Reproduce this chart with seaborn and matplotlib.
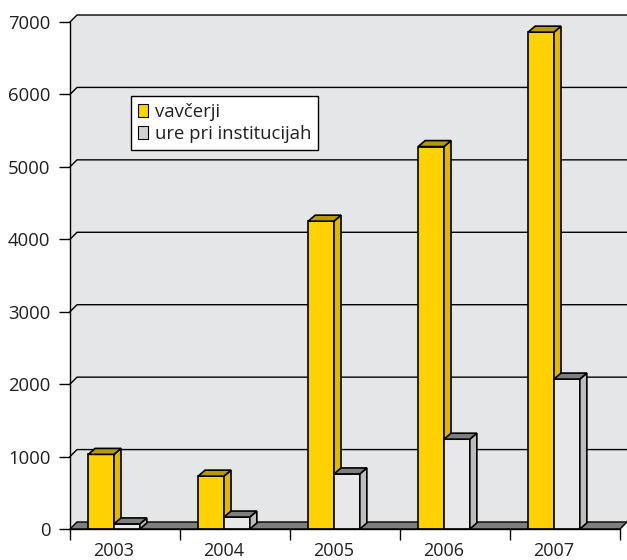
"""3D-style clustered column chart: vavčerji vs. ure pri institucijah, 2003-2007."""

import matplotlib
matplotlib.use("Agg")
import matplotlib.pyplot as plt
from matplotlib.lines import Line2D
from matplotlib.patches import Patch, Polygon, Rectangle
import pandas as pd
import seaborn as sns

YEARS = ["2003", "2004", "2005", "2006", "2007"]
VAVCERJI = [1030, 730, 4250, 5280, 6860]
URE = [70, 165, 760, 1240, 2070]
SERIES = ["vavčerji", "ure pri institucijah"]
Y_TICKS = [0, 1000, 2000, 3000, 4000, 5000, 6000, 7000]

FRONT = ["#FFD200", "#E8E8EA"]
SIDE = ["#E0B800", "#BDBDBF"]
TOP = ["#B69800", "#7E7E80"]
SWATCH = ["#FFD200", "#D2D2D4"]
WALL = "#E5E6E8"
FLOOR = "#7F7F7F"
TEXT = "#231F20"

W_DX, W_DY = 7, 7   # back wall depth (px)
B_DX, B_DY = 7, 6   # bar depth (px)

plt.rcParams["font.family"] = ["Open Sans", "DejaVu Sans"]

df = pd.DataFrame({
    "year": YEARS * 2,
    "value": VAVCERJI + URE,
    "series": [SERIES[0]] * len(YEARS) + [SERIES[1]] * len(YEARS),
})

fig = plt.figure(figsize=(6.27, 5.6), dpi=100)
ax = fig.add_axes([70 / 627, 31 / 560, 550 / 627, 507 / 560])
ax.set_facecolor("none")

sns.barplot(
    data=df, x="year", y="value", hue="series", order=YEARS,
    hue_order=SERIES, palette=dict(zip(SERIES, FRONT)), saturation=1,
    width=0.47, edgecolor="black", linewidth=1.2, legend=False, ax=ax,
)

xmin, xmax = -0.4, 4.6
ymin, ymax = 0, 7000
ax.set_xlim(xmin, xmax)
ax.set_ylim(ymin, ymax)

# pixel -> data conversion for the fake depth
ax_w = ax.get_position().width * fig.get_figwidth() * fig.dpi
ax_h = ax.get_position().height * fig.get_figheight() * fig.dpi
px_x = (xmax - xmin) / ax_w
px_y = (ymax - ymin) / ax_h
wdx, wdy = W_DX * px_x, W_DY * px_y
bdx, bdy = B_DX * px_x, B_DY * px_y

# back wall, side wall, floor
ax.add_patch(Rectangle((xmin + wdx, wdy), xmax - xmin, ymax, facecolor=WALL,
                       edgecolor="none", clip_on=False, zorder=0))
ax.add_patch(Polygon([(xmin, 0), (xmin + wdx, wdy), (xmin + wdx, ymax + wdy),
                      (xmin, ymax)], closed=True, facecolor=WALL,
                     edgecolor="none", clip_on=False, zorder=0))
ax.add_patch(Polygon([(xmin, 0), (xmax, 0), (xmax + wdx, wdy), (xmin + wdx, wdy)],
                     closed=True, facecolor=FLOOR, edgecolor="black",
                     linewidth=1.0, clip_on=False, zorder=1))
for v in Y_TICKS[1:]:
    ax.add_line(Line2D([xmin, xmin + wdx, xmax + wdx], [v, v + wdy, v + wdy],
                       color="black", linewidth=1.0, clip_on=False, zorder=1))

# give the bars depth
for i, cont in enumerate(ax.containers):
    for bar in cont:
        x0, w, h = bar.get_x(), bar.get_width(), bar.get_height()
        x1 = x0 + w
        bar.set_zorder(3 + i)
        side = Polygon([(x1, 0), (x1, h), (x1 + bdx, h + bdy), (x1 + bdx, bdy)],
                       closed=True, facecolor=SIDE[i], edgecolor="black",
                       linewidth=1.2, zorder=3.5 + i, clip_on=False)
        top = Polygon([(x0, h), (x1, h), (x1 + bdx, h + bdy), (x0 + bdx, h + bdy)],
                      closed=True, facecolor=TOP[i], edgecolor="black",
                      linewidth=1.2, zorder=3.5 + i, clip_on=False)
        ax.add_patch(side)
        ax.add_patch(top)

# axes styling
for s in ["top", "right"]:
    ax.spines[s].set_visible(False)
for s in ["left", "bottom"]:
    ax.spines[s].set_color("black")
    ax.spines[s].set_linewidth(1.0)
    ax.spines[s].set_zorder(6)

ax.set_yticks(Y_TICKS)
ax.set_yticklabels([str(v) for v in Y_TICKS])
ax.set_xticks(range(len(YEARS)))
ax.set_xticklabels(YEARS)
ax.set_xticks([xmin + k for k in range(len(YEARS) + 1)], minor=True)
ax.tick_params(axis="x", which="major", length=0, pad=9, labelsize=13,
               labelcolor=TEXT)
ax.tick_params(axis="x", which="minor", length=8, width=1, direction="out",
               color="black")
ax.tick_params(axis="y", length=8, width=1, direction="out", pad=6,
               labelsize=13.3, labelcolor=TEXT, color="black")
ax.set_xlabel("")
ax.set_ylabel("")

handles = [Patch(facecolor=SWATCH[i], edgecolor="black", linewidth=0.8,
                 label=SERIES[i]) for i in range(2)]
leg = ax.legend(handles=handles, loc="upper left",
                bbox_to_anchor=(0.111, 0.854), borderaxespad=0,
                frameon=True, fancybox=False, framealpha=1, fontsize=13.3,
                handlelength=0.55, handleheight=0.7, handletextpad=0.35,
                labelspacing=0.22, borderpad=0.38, labelcolor=TEXT)
leg.get_frame().set_facecolor("white")
leg.get_frame().set_edgecolor("black")
leg.get_frame().set_linewidth(1.0)
leg.set_zorder(10)

fig.savefig("out.png", dpi=100)
